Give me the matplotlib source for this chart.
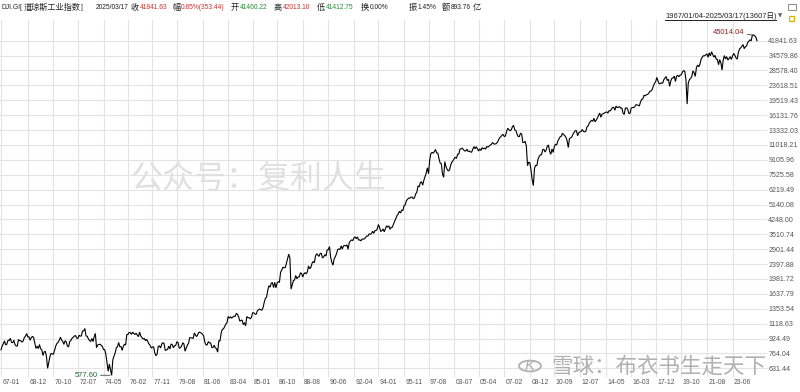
import matplotlib
matplotlib.use('Agg')
import matplotlib.pyplot as plt
import numpy as np
import pandas as pd
from matplotlib import font_manager
from matplotlib.ticker import NullLocator
from matplotlib.patches import Circle, Rectangle
from matplotlib.lines import Line2D

_names = {f.name for f in font_manager.fontManager.ttflist}
NARROW = 'Liberation Sans Narrow' if 'Liberation Sans Narrow' in _names else 'Liberation Sans'
HEAD_SIZE = 5.6 if NARROW == 'Liberation Sans Narrow' else 4.8

plt.rcParams['font.family'] = ['Liberation Sans', 'Noto Sans CJK SC', 'DejaVu Sans']

# ---------------- data ----------------
seg1_start = '1967-01'
djia_seg1 = [
    800, 840, 865, 897, 852, 860, 904, 901, 927, 880, 875, 905,          # 1967
    855, 840, 840, 912, 899, 898, 883, 896, 935, 952, 985, 944,          # 1968
    946, 905, 935, 950, 937, 873, 815, 837, 813, 856, 812, 800,          # 1969
    744, 778, 785, 736, 631, 683, 734, 765, 760, 755, 794, 839,          # 1970
    869, 879, 904, 941, 907, 891, 858, 898, 887, 839, 831, 890,          # 1971
    902, 928, 940, 954, 961, 929, 925, 964, 953, 956, 1018, 1020,        # 1972
    1051, 955, 951, 921, 901, 891, 926, 888, 947, 987, 822, 851,         # 1973
    856, 860, 847, 837, 802, 802, 757, 679, 608, 666, 619, 577.60,       # 1974
    704, 739, 768, 821, 832, 879, 832, 835, 794, 836, 860, 852,          # 1975
    975, 973, 1000, 997, 975, 1003, 985, 974, 990, 965, 947, 1005,       # 1976
    954, 936, 919, 927, 899, 916, 890, 862, 848, 818, 830, 831,          # 1977
    770, 742, 757, 837, 841, 819, 862, 877, 866, 793, 799, 805,          # 1978
    839, 808, 862, 855, 822, 842, 847, 888, 878, 816, 822, 839,          # 1979
    876, 863, 786, 817, 851, 868, 935, 933, 932, 925, 993, 964,          # 1980
    948, 975, 1004, 998, 992, 977, 953, 882, 850, 853, 889, 875,         # 1981
    872, 824, 823, 848, 820, 812, 777, 901, 896, 992, 1039, 1047,        # 1982
    1076, 1113, 1130, 1226, 1200, 1222, 1199, 1216, 1233, 1225, 1276, 1259,  # 1983
    1221, 1155, 1165, 1171, 1105, 1132, 1087, 1224, 1207, 1207, 1189, 1212,  # 1984
    1287, 1284, 1267, 1258, 1315, 1336, 1348, 1334, 1329, 1375, 1472, 1547,  # 1985
    1571, 1710, 1819, 1784, 1877, 1893, 1775, 1898, 1768, 1878, 1914, 1896,  # 1986
    2158, 2224, 2305, 2286, 2292, 2419, 2572, 2722, 2596, 1740, 1834, 1939,  # 1987
    1958, 2072, 1988, 2032, 2031, 2142, 2129, 2032, 2113, 2149, 2115, 2169,  # 1988
    2342, 2259, 2294, 2419, 2480, 2440, 2661, 2737, 2693, 2645, 2748, 2753,  # 1989
    2591, 2627, 2707, 2657, 2877, 2881, 2999, 2614, 2453, 2365, 2560, 2634,  # 1990
    2736, 2882, 2914, 2888, 3028, 2907, 3025, 3044, 3017, 3069, 2895, 3169,  # 1991
    3224, 3267, 3236, 3359, 3397, 3319, 3394, 3257, 3272, 3226, 3306, 3301,  # 1992
    3310, 3371, 3435, 3428, 3527, 3516, 3540, 3651, 3555, 3681, 3684, 3754,  # 1993
    3978, 3832, 3636, 3682, 3758, 3625, 3765, 3913, 3843, 3908, 3739, 3834,  # 1994
    3844, 4011, 4158, 4321, 4465, 4556, 4709, 4611, 4789, 4756, 5075, 5117,  # 1995
    5395, 5486, 5588, 5569, 5643, 5655, 5529, 5616, 5882, 6029, 6522, 6448,  # 1996
    6813, 6878, 6584, 7009, 7331, 7673, 8223, 7622,                          # 1997 (to Aug)
]
seg2_start = '2001-10'
djia_seg2 = [
    9075, 9852, 10022,                                                        # 2001
    9920, 10106, 10404, 9946, 9925, 9243, 8737, 8664, 7592, 7286, 8896, 8342,  # 2002
    8054, 7891, 7992, 8480, 8850, 8985, 9234, 9416, 9275, 9801, 9782, 10454,   # 2003
    10488, 10584, 10358, 10226, 10188, 10435, 10140, 10174, 10080, 10027, 10428, 10783,  # 2004
    10490, 10766, 10504, 10193, 10467, 10275, 10641, 10482, 10569, 10440, 10806, 10718,  # 2005
    10865, 10993, 11109, 11367, 11168, 11150, 11186, 11381, 11679, 12081, 12221, 12463,  # 2006
    12622, 12269, 12354, 13063, 13628, 13409, 13212, 13358, 13896, 14165, 13372, 13265,  # 2007
    12650, 12266, 12263, 12820, 12638, 11350, 11378, 11544, 10851, 8451, 8829, 8776,     # 2008
    8001, 7063, 6547, 8168, 8500, 8447, 9172, 9496, 9712, 9713, 10345, 10428,            # 2009
    10067, 10325, 10857, 11009, 10137, 9774, 10466, 10015, 10788, 11118, 11006, 11578,   # 2010
    11892, 12226, 12320, 12811, 12570, 12414, 12143, 11614, 10655, 11955, 12046, 12218,  # 2011
    12633, 12952, 13212, 13214, 12393, 12880, 13009, 13091, 13437, 13096, 13026, 13104,  # 2012
    13861, 14054, 14579, 14840, 15116, 14910, 15500, 14810, 15130, 15546, 16086, 16577,  # 2013
    15699, 16322, 16458, 16581, 16717, 16827, 16563, 17098, 17043, 17391, 17828, 17823,  # 2014
    17165, 18133, 17776, 17841, 18011, 17620, 17690, 16528, 16285, 17664, 17720, 17425,  # 2015
    16466, 16517, 17685, 17774, 17787, 17930, 18432, 18401, 18308, 18142, 19124, 19763,  # 2016
    19864, 20812, 20663, 20941, 21009, 21350, 21891, 21948, 22405, 23377, 24272, 24719,  # 2017
    26149, 25029, 24103, 24163, 24416, 24271, 25415, 25965, 26458, 25116, 25538, 23327,  # 2018
    24999, 25916, 25929, 26593, 24815, 26600, 26864, 26403, 26917, 27046, 28051, 28538,  # 2019
    28256, 25409, 18592, 24346, 25383, 25813, 26428, 28430, 27782, 26502, 29639, 30606,  # 2020
    29983, 30932, 32982, 33875, 34529, 34503, 34935, 35361, 33844, 35820, 34484, 36338,  # 2021
    35132, 33893, 34678, 32977, 32990, 30775, 32845, 31510, 28726, 32733, 34590, 33147,  # 2022
    34086, 32657, 33274, 34098, 32908, 34408, 35560, 34722, 33508, 33053, 35951, 37690,  # 2023
    38150, 38996, 39807, 37816, 38686, 39119, 40843, 41563, 42330, 41763, 44911, 45014.04,  # 2024
    44544, 43841, 41841.63,                                                               # 2025
]

x_tick_labels = ['67-01', '68-12', '70-10', '72-07', '74-05', '76-02', '77-11', '79-08',
                 '81-06', '83-04', '85-01', '86-10', '88-08', '90-06', '92-04', '94-01',
                 '95-11', '97-08', '03-07', '05-04', '07-02', '08-12', '10-09', '12-07',
                 '14-05', '16-03', '17-12', '19-10', '21-08', '23-06']

y_tick_values = [41841.63, 34579.86, 28578.40, 23618.51, 19519.43, 16131.76, 13332.03,
                 11018.21, 9105.96, 7525.58, 6219.49, 5140.08, 4248.00, 3510.74, 2901.44,
                 2397.88, 1981.72, 1637.79, 1353.54, 1118.63, 924.49, 764.04, 631.44]

header_items = [
    ('DJI.GI[', '#222222'), ('道琼斯工业指数', '#222222'), (']', '#222222'),
    ('2025/03/17', '#222222'),
    ('收', '#222222'), ('41841.63', '#d03030'),
    ('幅', '#222222'), ('0.85%(353.44)', '#d03030'),
    ('开', '#222222'), ('41460.22', '#2a8a3a'),
    ('高', '#222222'), ('42013.10', '#d03030'),
    ('低', '#222222'), ('41412.75', '#2a8a3a'),
    ('换', '#222222'), ('0.00%', '#222222'),
    ('振', '#222222'), ('1.45%', '#222222'),
    ('额', '#222222'), ('893.76', '#222222'), ('亿', '#222222'),
]
header_x = [2, 24, 81, 96, 131, 140, 172, 181, 231, 240, 274, 283, 317, 326,
            361, 370, 409, 418, 442, 451, 473]

range_text = '1967/01/04-2025/03/17(13607日)'

# ---------------- build ----------------
dates = list(pd.period_range(seg1_start, periods=len(djia_seg1), freq='M')) + \
        list(pd.period_range(seg2_start, periods=len(djia_seg2), freq='M'))
values = np.array(djia_seg1 + djia_seg2, dtype=float)
xs = np.arange(len(values))

def label_index(lbl):
    yy, mm = int(lbl[:2]), int(lbl[3:])
    year = 1900 + yy if yy >= 50 else 2000 + yy
    for i, d in enumerate(dates):
        if d.year == year and d.month == mm:
            return i
    return None

tick_idx = [label_index(l) for l in x_tick_labels]

W, H = 800, 392
fig = plt.figure(figsize=(W / 100, H / 100), dpi=100)
fig.patch.set_facecolor('white')

ax_left, ax_right, ax_top, ax_bot = 0, 762, 20, 377
ax = fig.add_axes([ax_left / W, 1 - ax_bot / H, (ax_right - ax_left) / W, (ax_bot - ax_top) / H])
ax.set_facecolor('white')

ax.plot(xs, values, color='black', lw=0.8, solid_joinstyle='miter', zorder=3)

ax.set_yscale('log')
ax.set_ylim(564.9, 54540)
px_per = (757 - 1) / (len(values) - 1)
x0 = -1 / px_per
ax.set_xlim(x0, x0 + (ax_right - ax_left) / px_per)

ax.set_xticks(tick_idx)
ax.set_xticklabels([])
ax.tick_params(axis='x', length=0)
ax.yaxis.set_minor_locator(NullLocator())
ax.set_yticks(y_tick_values)
ax.set_yticklabels([f'{v:.2f}' for v in y_tick_values])
ax.yaxis.tick_right()
ax.tick_params(axis='y', length=3.5, color='#e3e3e3', width=0.8, pad=1.0,
               labelsize=5.1, labelcolor='#555555')
ax.grid(True, color='#e3e3e3', lw=0.8, zorder=0)
for s in ax.spines.values():
    s.set_visible(False)

# x labels, left aligned at the gridline
for i, lbl in zip(tick_idx, x_tick_labels):
    ax.annotate(lbl, xy=(i, 0), xycoords=('data', 'axes fraction'),
                xytext=(1.5, -6), textcoords='offset pixels',
                ha='left', va='center', fontsize=4.9, color='#555555',
                annotation_clip=False)

# max / min annotations
imax = int(np.argmax(values))
imin = int(np.argmin(values))
ax.annotate(f'{values[imax]:.2f}', xy=(imax, values[imax]), xytext=(-9, 2),
            textcoords='offset pixels', ha='right', va='center', fontsize=5.4,
            color='#8b1c1c', arrowprops=dict(arrowstyle='-', color='#444444', lw=0.6,
                                             shrinkA=0, shrinkB=1))
ax.annotate(f'{values[imin]:.2f}', xy=(imin, values[imin]), xytext=(-14, 0),
            textcoords='offset pixels', ha='right', va='center', fontsize=5.4,
            color='#1d6a2a', arrowprops=dict(arrowstyle='-', color='#444444', lw=0.6,
                                             shrinkA=0, shrinkB=1))

# header
def is_cjk(s):
    return any(ord(c) > 0x2E80 for c in s)

for (txt, col), hx in zip(header_items, header_x):
    if is_cjk(txt):
        fig.text(hx / W, 1 - 7.5 / H, txt, ha='left', va='center', fontsize=5.9,
                 color=col, family=['Noto Sans CJK SC'])
    else:
        fig.text(hx / W, 1 - 7.5 / H, txt, ha='left', va='center', fontsize=HEAD_SIZE,
                 color=col, family=[NARROW, 'DejaVu Sans'])

# range label with underline
fig.text(665 / W, 1 - 16 / H, range_text, ha='left', va='center', fontsize=5.4,
         color='#222222', family=['Liberation Sans', 'Noto Sans CJK SC', 'DejaVu Sans'])
fig.add_artist(Line2D([665 / W, 776 / W], [1 - 19.5 / H, 1 - 19.5 / H], color='#222222',
                      lw=0.7, transform=fig.transFigure))
fig.text(778 / W, 1 - 16 / H, '▼', ha='left', va='center', fontsize=4,
         color='#666666', family='DejaVu Sans')
# small icons
fig.add_artist(Rectangle((788 / W, 1 - 10 / H), 8 / W, 6 / H, fill=False,
                         edgecolor='#888888', lw=0.7, transform=fig.transFigure))
fig.add_artist(Rectangle((789 / W, 1 - 21 / H), 5 / W, 5 / H, fill=False,
                         edgecolor='#e0b000', lw=0.9, transform=fig.transFigure))

# watermarks
fig.text(130 / W, 1 - 179 / H, '公众号：复利人生', ha='left', va='center',
         fontsize=23, color='#e0e0e0', family=['Noto Sans CJK SC'], zorder=1)
fig.text(551 / W, 1 - 367 / H, '雪球：布衣书生走天下', ha='left', va='center',
         fontsize=15.5, color='#b0b0b0', family=['Noto Sans CJK SC'], zorder=5)
fig.add_artist(Circle((530 / W, 1 - 366 / H), 11 / W, fill=False, edgecolor='#b0b0b0',
                      lw=1.3, transform=fig.transFigure))
fig.text(530 / W, 1 - 366 / H, 'K', ha='center', va='center', fontsize=11,
         color='#b0b0b0', style='italic')

fig.savefig('out.png', dpi=100, facecolor='white')
